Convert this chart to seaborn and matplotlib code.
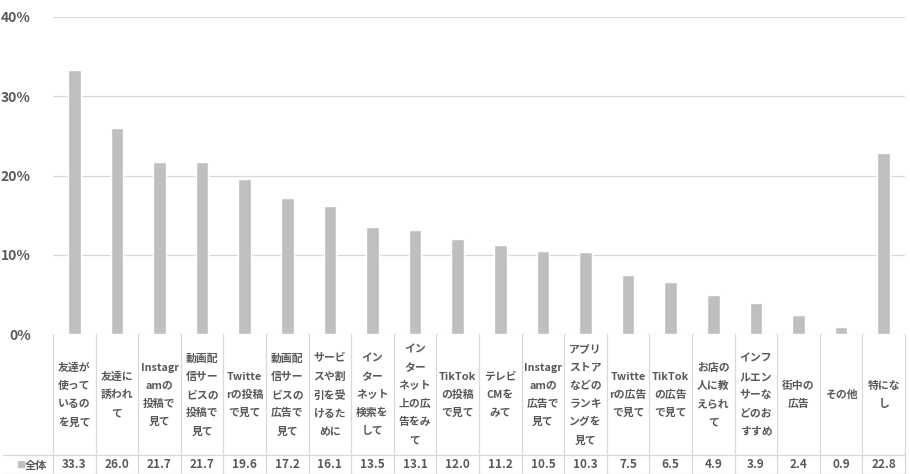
import matplotlib
matplotlib.use("Agg")
import matplotlib.pyplot as plt
import matplotlib.transforms as mtransforms
import seaborn as sns
import pandas as pd

categories = [
    "友達が\n使って\nいるの\nを見て",
    "友達に\n誘われ\nて",
    "Instagr\namの\n投稿で\n見て",
    "動画配\n信サー\nビスの\n投稿で\n見て",
    "Twitte\nrの投稿\nで見て",
    "動画配\n信サー\nビスの\n広告で\n見て",
    "サービ\nスや割\n引を受\nけるた\nめに",
    "イン\nター\nネット\n検索を\nして",
    "イン\nター\nネット\n上の広\n告をみ\nて",
    "TikTok\nの投稿\nで見て",
    "テレビ\nCMを\nみて",
    "Instagr\namの\n広告で\n見て",
    "アプリ\nストア\nなどの\nランキ\nングを\n見て",
    "Twitte\nrの広告\nで見て",
    "TikTok\nの広告\nで見て",
    "お店の\n人に教\nえられ\nて",
    "インフ\nルエン\nサーな\nどのお\nすすめ",
    "街中の\n広告",
    "その他",
    "特にな\nし",
]
values = [33.3, 26.0, 21.7, 21.7, 19.6, 17.2, 16.1, 13.5, 13.1, 12.0,
          11.2, 10.5, 10.3, 7.5, 6.5, 4.9, 3.9, 2.4, 0.9, 22.8]
series_name = "全体"
y_ticks = [0, 10, 20, 30, 40]
y_tick_labels = ["0%", "10%", "20%", "30%", "40%"]

sns.set_theme(style="white")
plt.rcParams["font.family"] = ["Noto Sans CJK JP", "DejaVu Sans"]

W, H = 910, 474
fig = plt.figure(figsize=(W / 100, H / 100), dpi=100)
left, right, top, zero = 53, 905, 17, 334
ax = fig.add_axes([left / W, 1 - zero / H, (right - left) / W, (zero - top) / H])

bar_color = "#BFBFBF"
text_color = "#595959"
grid_color = "#D9D9D9"

df = pd.DataFrame({"cat": categories, "val": values})
sns.barplot(data=df, x="cat", y="val", color=bar_color, width=0.3,
            saturation=1, ax=ax, zorder=3)

ax.set_xlim(-0.5, len(categories) - 0.5)
ax.set_ylim(0, 40)
ax.set_yticks(y_ticks)
ax.set_yticklabels(y_tick_labels, fontsize=10, fontweight="bold", color=text_color)
ax.tick_params(axis="y", length=0, pad=16)
ax.set_xticks([])
ax.set_xlabel("")
ax.set_ylabel("")
for s in ax.spines.values():
    s.set_visible(False)
for t in y_ticks:
    ax.axhline(t, color=grid_color, lw=0.9, zorder=1)

# data table beneath the plot
trans = mtransforms.blended_transform_factory(ax.transData, ax.transAxes)
ph = zero - top
bottom_f = -(H - zero) / ph
row_f = -(455 - zero) / ph
head_c = -(395 - zero) / ph
val_c = -(465 - zero) / ph
n = len(categories)

for i in range(n + 1):
    ax.plot([i - 0.5, i - 0.5], [0, bottom_f], transform=trans, color=grid_color,
            lw=0.9, clip_on=False)
ax.plot([-0.5, n - 0.5], [bottom_f + 0.001, bottom_f + 0.001], transform=trans,
        color=grid_color, lw=0.9, clip_on=False)
fig.add_artist(plt.Line2D([3 / W, right / W], [1 - 455 / H, 1 - 455 / H],
                          color=grid_color, lw=0.9))
fig.add_artist(plt.Line2D([3 / W, left / W], [1 - 473.5 / H, 1 - 473.5 / H],
                          color=grid_color, lw=0.9))

for i, (c, v) in enumerate(zip(categories, values)):
    ax.text(i, head_c, c, transform=trans, ha="center", va="center",
            fontsize=7.8, fontweight="bold", color=text_color, linespacing=2.0,
            clip_on=False)
    ax.text(i, val_c, f"{v:.1f}", transform=trans, ha="center", va="center",
            fontsize=8.5, fontweight="bold", color=text_color, clip_on=False)

fig.text(16 / W, 1 - 465 / H, "■", fontsize=6.5, color=bar_color,
         ha="left", va="center")
fig.text(25 / W, 1 - 465 / H, series_name, fontsize=8, fontweight="bold",
         color=text_color, ha="left", va="center")

fig.savefig("out.png", dpi=100)
